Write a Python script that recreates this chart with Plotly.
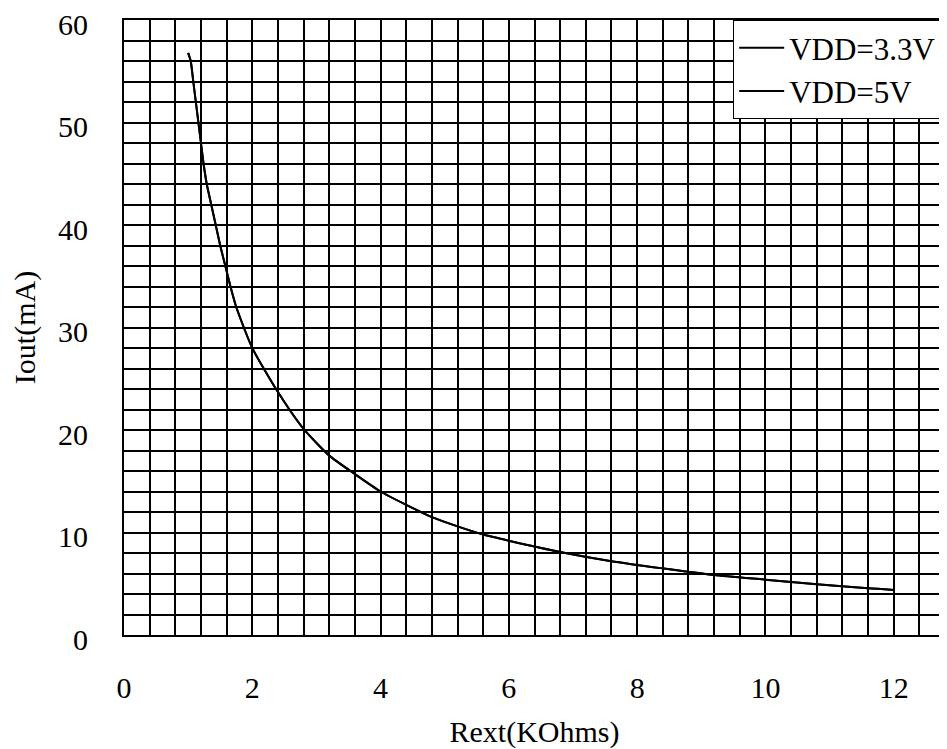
import plotly.graph_objects as go

rext = [1.0, 1.04, 1.08, 1.12, 1.16, 1.2, 1.24, 1.29, 1.36, 1.43, 1.5, 1.58, 1.66, 1.75, 2.0,
        2.4, 2.8, 3.2, 3.6, 4.0, 4.4, 4.8, 5.2, 5.6, 6.0, 6.8, 7.6, 8.4, 9.2, 10.0, 10.8, 11.6, 12.0]
iout_33 = [56.8, 56.0, 54.0, 52.0, 50.0, 48.0, 46.0, 44.0, 42.0, 40.0, 38.0, 36.0, 34.0, 32.0, 28.0,
           23.7, 20.1, 17.5, 15.7, 14.0, 12.7, 11.5, 10.6, 9.8, 9.2, 8.1, 7.2, 6.5, 5.85, 5.4, 4.95, 4.55, 4.4]
iout_5 = list(iout_33)

series_names = ["VDD=3.3V", "VDD=5V"]
x_ticks = [0, 2, 4, 6, 8, 10, 12]
y_ticks = [0, 10, 20, 30, 40, 50, 60]

FONT = "Liberation Serif"

fig = go.Figure()
for name, vals in zip(series_names, [iout_33, iout_5]):
    fig.add_trace(go.Scatter(x=rext, y=vals, mode="lines", name=name,
                             line=dict(color="black", width=2, shape="spline", smoothing=0.6)))

axis_common = dict(
    showgrid=True, gridcolor="black", gridwidth=2,
    showline=True, linecolor="black", linewidth=2, mirror=True,
    zeroline=False, ticks="", automargin=False, ticklabeloverflow="allow",
    tickfont=dict(family=FONT, size=30, color="black"),
)

fig.update_xaxes(range=[0, 12.8], tickmode="array", tickvals=x_ticks,
                 ticktext=[str(v) for v in x_ticks],
                 minor=dict(dtick=0.4, tick0=0, showgrid=True, gridcolor="black", gridwidth=2),
                 title=dict(text="Rext(KOhms)", font=dict(family=FONT, size=30, color="black"), standoff=24),
                 ticklabelstandoff=25,
                 **axis_common)
fig.update_yaxes(range=[0, 60], tickmode="array", tickvals=y_ticks,
                 ticktext=[str(v) for v in y_ticks],
                 minor=dict(dtick=2, tick0=0, showgrid=True, gridcolor="black", gridwidth=2),
                 title=dict(text="Iout(mA)", font=dict(family=FONT, size=30, color="black"), standoff=27),
                 ticklabelstandoff=28, ticklabelshift=4,
                 **axis_common)

fig.update_layout(
    width=939, height=741,
    margin=dict(l=116, r=2, t=12, b=114),
    paper_bgcolor="white", plot_bgcolor="white",
    font=dict(family=FONT, color="black"),
    legend=dict(x=0.742, y=1, xanchor="left", yanchor="top",
                bgcolor="white", bordercolor="black", borderwidth=1,
                font=dict(family=FONT, size=31, color="black"),
                tracegroupgap=0, itemwidth=45),
)

fig.write_html("out.html")
